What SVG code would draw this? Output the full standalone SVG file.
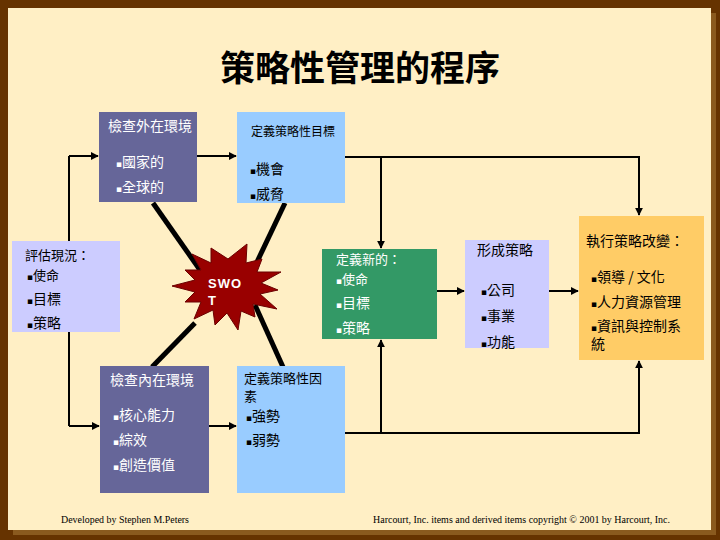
<svg xmlns="http://www.w3.org/2000/svg" width="720" height="540" viewBox="0 0 720 540">
<style>
.t{font-family:"Noto Sans CJK TC","Noto Sans CJK SC",sans-serif;font-size:14px}
.s{font-size:13px}
.w{fill:#FFFFFF}
.k{fill:#000000}
.b{font-family:"DejaVu Sans",sans-serif;font-size:9px}
.conn{fill:none;stroke:#000;stroke-width:2}
.thick{fill:none;stroke:#000;stroke-width:5}
.foot{font-family:"Liberation Serif",serif;font-size:10px;fill:#000}
</style>
<defs>
<marker id="ah" viewBox="0 0 10 10" refX="9" refY="5" markerWidth="8" markerHeight="8" markerUnits="userSpaceOnUse" orient="auto">
<path d="M0,0 L10,5 L0,10 Z" fill="#000"/>
</marker>
</defs>
<rect x="0" y="0" width="720" height="540" fill="#663300"/>
<rect x="13" y="13" width="703" height="522" fill="#8A5A1E"/>
<rect x="8" y="8" width="703" height="522" fill="#FFEFC5"/>
<text x="360" y="81" text-anchor="middle" font-family="Noto Sans CJK TC, Noto Sans CJK SC, sans-serif" font-size="35" font-weight="bold" fill="#000">策略性管理的程序</text>

<g id="connectors">
<path class="conn" d="M69,156 V426"/>
<path class="conn" d="M69,156 H98" marker-end="url(#ah)"/>
<path class="conn" d="M69,426 H99" marker-end="url(#ah)"/>
<path class="conn" d="M197,156 H236" marker-end="url(#ah)"/>
<path class="conn" d="M345,157 H639 V215" marker-end="url(#ah)"/>
<path class="conn" d="M381,157 V248" marker-end="url(#ah)"/>
<path class="conn" d="M209,426 H236" marker-end="url(#ah)"/>
<path class="conn" d="M345,433 H639 V361" marker-end="url(#ah)"/>
<path class="conn" d="M381,433 V340" marker-end="url(#ah)"/>
<path class="conn" d="M437,291 H464" marker-end="url(#ah)"/>
<path class="conn" d="M549,291 H578" marker-end="url(#ah)"/>
<path class="thick" d="M153,203 L200,270"/>
<path class="thick" d="M285,203 L256,264"/>
<path class="thick" d="M195,323 L152,367"/>
<path class="thick" d="M255,305 L283,367"/>
</g>

<g id="external">
<rect x="99" y="112" width="98" height="90" fill="#666699"/>
<text class="t w" x="108" y="131">檢查外在環境</text>
<text class="t w" x="116" y="167"><tspan class="b">▪</tspan>國家的</text>
<text class="t w" x="116" y="192"><tspan class="b">▪</tspan>全球的</text>
</g>

<g id="objectives">
<rect x="237" y="112" width="108" height="91" fill="#99CCFF"/>
<text class="t k" x="251" y="136" style="font-size:12px">定義策略性目標</text>
<text class="t k" x="250" y="174"><tspan class="b">▪</tspan>機會</text>
<text class="t k" x="250" y="199"><tspan class="b">▪</tspan>威脅</text>
</g>

<g id="assess">
<rect x="12" y="241" width="108" height="91" fill="#CCCCFF"/>
<text class="t s k" x="25" y="260">評估現況：</text>
<text class="t s k" x="27" y="280"><tspan class="b">▪</tspan>使命</text>
<text class="t k" x="27" y="304"><tspan class="b">▪</tspan>目標</text>
<text class="t k" x="27" y="328"><tspan class="b">▪</tspan>策略</text>
</g>

<g id="swot">
<polygon fill="#990000" stroke="#6B0000" stroke-width="1" points="247,244 246,263 262,259 257,272 281,272 261,283 278,290 260,294 277,309 253,304 255,317 241,311 238,330 227,313 215,325 213,310 194,319 201,302 185,302 195,292 172,286 195,280 185,270 201,270 192,254 211,263 211,248 228,259"/>
<text x="208" y="288" font-family="Liberation Sans, Arial, sans-serif" font-size="13" font-weight="bold" fill="#FFFFFF" letter-spacing="1">SWO</text>
<text x="208" y="305" font-family="Liberation Sans, Arial, sans-serif" font-size="13" font-weight="bold" fill="#FFFFFF">T</text>
</g>

<g id="internal">
<rect x="100" y="366" width="109" height="127" fill="#666699"/>
<text class="t w" x="110" y="385">檢查內在環境</text>
<text class="t w" x="113" y="420"><tspan class="b">▪</tspan>核心能力</text>
<text class="t w" x="113" y="445"><tspan class="b">▪</tspan>綜效</text>
<text class="t w" x="113" y="470"><tspan class="b">▪</tspan>創造價值</text>
</g>

<g id="factors">
<rect x="237" y="366" width="108" height="127" fill="#99CCFF"/>
<text class="t s k" x="244" y="383">定義策略性因</text>
<text class="t s k" x="244" y="401">素</text>
<text class="t k" x="246" y="421"><tspan class="b">▪</tspan>強勢</text>
<text class="t k" x="246" y="445"><tspan class="b">▪</tspan>弱勢</text>
</g>

<g id="define-new">
<rect x="322" y="249" width="115" height="90" fill="#339966"/>
<text class="t s w" x="336" y="264">定義新的：</text>
<text class="t s w" x="336" y="284"><tspan class="b">▪</tspan>使命</text>
<text class="t w" x="336" y="308"><tspan class="b">▪</tspan>目標</text>
<text class="t w" x="336" y="333"><tspan class="b">▪</tspan>策略</text>
</g>

<g id="formulate">
<rect x="465" y="240" width="84" height="108" fill="#CCCCFF"/>
<text class="t k" x="477" y="255">形成策略</text>
<text class="t k" x="481" y="295"><tspan class="b">▪</tspan>公司</text>
<text class="t k" x="481" y="321"><tspan class="b">▪</tspan>事業</text>
<text class="t k" x="481" y="347"><tspan class="b">▪</tspan>功能</text>
</g>

<g id="implement">
<rect x="579" y="216" width="125" height="144" fill="#FFCC66"/>
<text class="t k" x="586" y="246">執行策略改變：</text>
<text class="t k" x="591" y="282"><tspan class="b">▪</tspan>領導 / 文化</text>
<text class="t k" x="591" y="307"><tspan class="b">▪</tspan>人力資源管理</text>
<text class="t k" x="591" y="331"><tspan class="b">▪</tspan>資訊與控制系</text>
<text class="t k" x="591" y="349">統</text>
</g>

<text class="foot" x="61" y="523" textLength="128" lengthAdjust="spacingAndGlyphs">Developed by Stephen M.Peters</text>
<text class="foot" x="373" y="523" textLength="297" lengthAdjust="spacingAndGlyphs">Harcourt, Inc. items and derived items copyright © 2001 by Harcourt, Inc.</text>
</svg>
